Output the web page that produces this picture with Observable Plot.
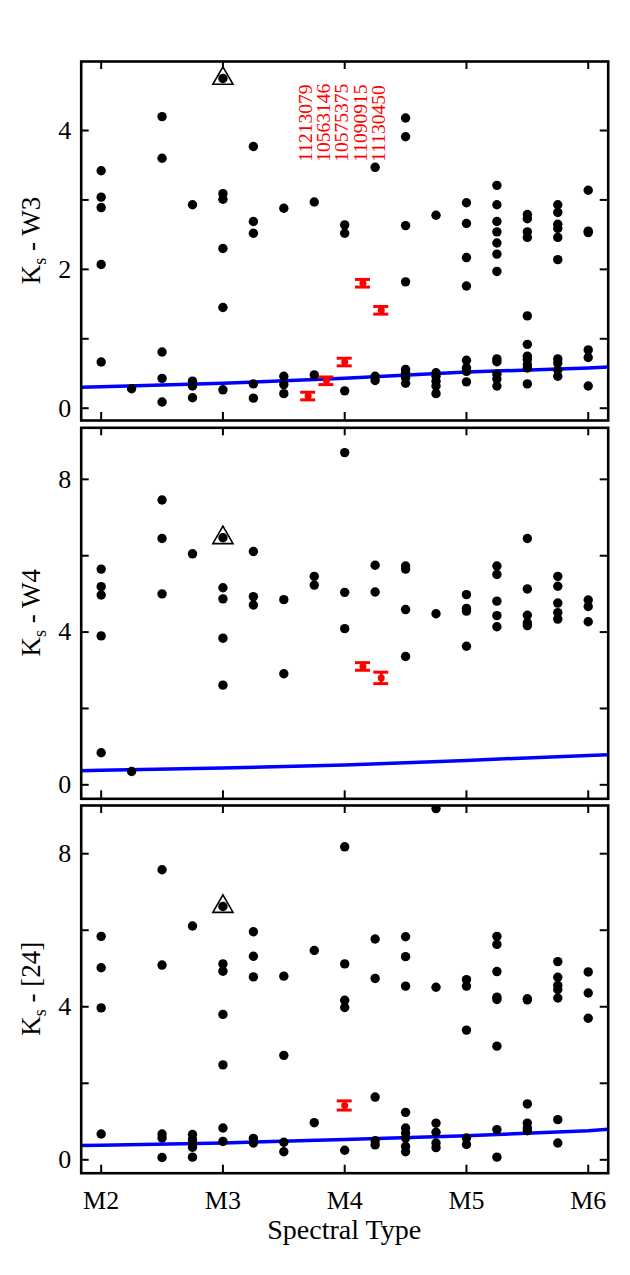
<!DOCTYPE html>
<html><head><meta charset="utf-8">
<script src="https://cdn.jsdelivr.net/npm/d3@7"></script>
<script src="https://cdn.jsdelivr.net/npm/@observablehq/plot@0.6"></script>
<style>
body{margin:0;background:#fff;}
#chart{position:relative;width:630px;height:1275px;}
#chart svg{position:absolute;left:0;font-family:"Liberation Serif","Times New Roman",serif !important;}
#chart svg text{font-family:"Liberation Serif","Times New Roman",serif !important;}
</style></head><body><div id="chart"></div>
<script>
// Spectral-type axis (M2 = 2 ... M6 = 6)
const sptTicks = [2, 3, 4, 5, 6];
const sptLabels = ["M2", "M3", "M4", "M5", "M6"];

// Panel 1: Ks - W3, grouped by spectral type
const w3Points = [
  [2.00, [3.42, 3.04, 2.89, 2.07, 0.665]],
  [2.25, [0.28]],
  [2.50, [4.20, 3.60, 0.81, 0.43, 0.09]],
  [2.75, [2.93, 0.39, 0.32, 0.15]],
  [3.00, [4.75, 3.09, 3.01, 2.30, 1.45, 0.265]],
  [3.25, [3.77, 2.69, 2.52, 0.35, 0.145]],
  [3.50, [2.88, 0.46, 0.34, 0.21]],
  [3.75, [2.97, 0.48]],
  [4.00, [2.64, 2.52, 0.25]],
  [4.25, [3.47, 0.46, 0.40]],
  [4.50, [4.18, 3.91, 2.63, 1.82, 0.56, 0.51, 0.44, 0.36]],
  [4.75, [2.78, 0.51, 0.46, 0.39, 0.32, 0.21]],
  [5.00, [2.96, 2.66, 2.17, 1.76, 0.69, 0.58, 0.53, 0.38]],
  [5.25, [3.21, 2.93, 2.69, 2.54, 2.38, 2.22, 1.97, 0.71, 0.67, 0.49, 0.42, 0.32]],
  [5.50, [2.79, 2.73, 2.54, 2.46, 1.33, 0.92, 0.75, 0.70, 0.63, 0.58, 0.35]],
  [5.75, [2.93, 2.82, 2.65, 2.59, 2.46, 2.14, 0.71, 0.65, 0.55, 0.46]],
  [6.00, [3.14, 2.55, 2.53, 0.84, 0.73, 0.32]]
];
// Panel 2: Ks - W4
const w4Points = [
  [2.00, [5.65, 5.19, 4.97, 3.90, 0.84]],
  [2.25, [0.35]],
  [2.50, [7.46, 6.45, 5.00]],
  [2.75, [6.05]],
  [3.00, [6.47, 5.16, 4.87, 3.84, 2.61]],
  [3.25, [6.11, 4.93, 4.71]],
  [3.50, [4.85, 2.91]],
  [3.75, [5.46, 5.23]],
  [4.00, [8.70, 5.04, 4.09]],
  [4.25, [5.75, 5.05]],
  [4.50, [5.73, 5.65, 4.59, 3.36]],
  [4.75, [4.48]],
  [5.00, [4.98, 4.62, 4.55, 3.63]],
  [5.25, [5.73, 5.51, 4.81, 4.43, 4.14]],
  [5.50, [6.45, 5.13, 4.44, 4.24, 4.17]],
  [5.75, [5.46, 5.20, 4.76, 4.51, 4.34]],
  [6.00, [4.84, 4.67, 4.27]]
];
// Panel 3: Ks - [24]
const m24Points = [
  [2.00, [5.84, 5.02, 3.97, 0.675]],
  [2.50, [7.58, 5.09, 0.675, 0.57, 0.06]],
  [2.75, [6.11, 0.66, 0.53, 0.44, 0.33, 0.07]],
  [3.00, [6.62, 5.12, 4.93, 3.80, 2.48, 0.83, 0.48]],
  [3.25, [5.96, 5.32, 4.78, 0.56, 0.44]],
  [3.50, [4.80, 2.73, 0.46, 0.21]],
  [3.75, [5.47, 0.97]],
  [4.00, [8.18, 5.12, 4.17, 3.98, 0.25]],
  [4.25, [5.77, 4.74, 1.64, 0.50, 0.39]],
  [4.50, [5.83, 5.31, 4.54, 1.24, 0.83, 0.70, 0.57, 0.35, 0.21]],
  [4.75, [9.18, 4.51, 0.96, 0.72, 0.44, 0.32]],
  [5.00, [4.71, 4.54, 3.39, 0.57, 0.40]],
  [5.25, [5.84, 5.63, 4.92, 4.25, 4.19, 2.97, 0.79, 0.07]],
  [5.50, [4.21, 4.18, 1.46, 0.96, 0.83, 0.76]],
  [5.75, [5.18, 4.77, 4.56, 4.45, 4.23, 1.05, 0.44]],
  [6.00, [4.91, 4.36, 3.70]]
];

// Flagged source (open triangle), M3
const triSpt = 3.0;
const triW3 = 4.75, triW4 = 6.47, triM24 = 6.62;

// Red sources with error bars: [spt, value, error]
const redIds = ["11213079", "10563146", "10575375", "11090915", "11130450"];
const redSpt = [3.70, 3.85, 4.00, 4.15, 4.30];
const redW3 = [[3.70, 0.175, 0.055], [3.85, 0.395, 0.055], [4.00, 0.665, 0.055], [4.15, 1.80, 0.055], [4.30, 1.41, 0.055]];
const redW4 = [[4.15, 3.10, 0.10], [4.30, 2.80, 0.15]];
const redM24 = [[4.00, 1.42, 0.12]];
const redLabelBase = 3.55;

// Blue photospheric sequences: [spt, colour]
const lineW3 = [[1.8, 0.30], [2, 0.31], [3, 0.36], [4, 0.43], [5, 0.52], [6, 0.58], [6.2, 0.595]];
const lineW4 = [[1.8, 0.37], [2, 0.38], [3, 0.44], [4, 0.52], [5, 0.64], [6, 0.77], [6.2, 0.79]];
const lineM24 = [[1.8, 0.37], [2, 0.38], [3, 0.44], [4, 0.53], [5, 0.63], [6, 0.76], [6.2, 0.81]];

const xDomain = [1.836, 6.164];
const FONT = "Liberation Serif, Times New Roman, serif";
const RED = "#ff0000", BLUE = "#0000ff";
const W = 630, ML = 80.7, MR = 22.3;

const flat = groups => groups.flatMap(([s, vs]) => vs.map(v => ({spt: s, v})));

function panel(cfg) {
  const innerW = W - ML - MR;
  const innerH = cfg.height - cfg.marginTop - cfg.marginBottom;
  const errs = cfg.red.map(([s, v, e]) => ({spt: s, v, e}));
  const marks = [
    Plot.line(cfg.line.map(([s, v]) => ({spt: s, v})), {x: "spt", y: "v", stroke: BLUE, strokeWidth: 3.5, clip: true}),
    Plot.dot(flat(cfg.points), {x: "spt", y: "v", r: 4.7, fill: "black", clip: true}),
    Plot.dot([{spt: triSpt, v: cfg.tri}], {x: "spt", y: "v", symbol: "triangle", r: 7.5, stroke: "black", fill: "none", strokeWidth: 1.6}),
    Plot.ruleX(errs, {x: "spt", y1: d => d.v - d.e, y2: d => d.v + d.e, stroke: RED, strokeWidth: 3}),
    Plot.ruleY(errs, {y: d => d.v - d.e, x1: "spt", x2: "spt", insetLeft: -7.5, insetRight: -7.5, stroke: RED, strokeWidth: 3}),
    Plot.ruleY(errs, {y: d => d.v + d.e, x1: "spt", x2: "spt", insetLeft: -7.5, insetRight: -7.5, stroke: RED, strokeWidth: 3}),
    Plot.dot(errs, {x: "spt", y: "v", r: 3.5, fill: RED}),
    Plot.tickY(cfg.yTicks, {y: d => d, insetRight: innerW - 8, stroke: "black", strokeWidth: 2}),
    Plot.tickY(cfg.yTicks, {y: d => d, insetLeft: innerW - 8, stroke: "black", strokeWidth: 2}),
    Plot.tickX(sptTicks, {x: d => d, insetTop: innerH - 8, stroke: "black", strokeWidth: 2}),
    Plot.tickX(sptTicks, {x: d => d, insetBottom: innerH - 8, stroke: "black", strokeWidth: 2}),
    Plot.frame({stroke: "black", strokeWidth: 2.6}),
    Plot.axisY(cfg.yLabels, {tickSize: 0, tickPadding: 10, fontSize: 26, fontFamily: FONT, label: null,
      tickFormat: d => String(d)})
  ];
  if (cfg.labels) {
    marks.push(Plot.text(redIds.map((id, i) => ({id, spt: redSpt[i]})), {
      x: "spt", y: () => redLabelBase, text: "id", rotate: -90, textAnchor: "start",
      lineAnchor: "middle", fill: RED, fontSize: 19.5, fontFamily: FONT, dx: -2.5
    }));
  }
  if (cfg.showX) {
    marks.push(Plot.axisX(sptTicks, {tickSize: 0, tickPadding: 17, fontSize: 26, fontFamily: FONT, label: null,
      tickFormat: d => sptLabels[sptTicks.indexOf(d)]}));
  }
  const svg = Plot.plot({
    width: W, height: cfg.height,
    marginLeft: ML, marginRight: MR, marginTop: cfg.marginTop, marginBottom: cfg.marginBottom,
    style: {fontFamily: FONT, background: "transparent", color: "black"},
    x: {domain: xDomain, axis: cfg.showX ? undefined : null},
    y: {domain: cfg.yDomain},
    marks
  });
  svg.style.top = cfg.top + "px";
  // y-axis title with subscript
  const yc = cfg.marginTop + innerH / 2;
  const t = d3.select(svg).append("text")
    .attr("transform", `translate(40,${yc}) rotate(-90)`)
    .attr("text-anchor", "middle")
    .attr("font-family", FONT).attr("font-size", 27).attr("fill", "black");
  t.append("tspan").text("K");
  t.append("tspan").attr("font-size", 18).attr("dy", 6).text("s");
  t.append("tspan").attr("dy", -6).text(" - " + cfg.title);
  if (cfg.showX) {
    d3.select(svg).append("text")
      .attr("x", ML + innerW / 2).attr("y", cfg.height - cfg.marginBottom + 66)
      .attr("text-anchor", "middle")
      .attr("font-family", FONT).attr("font-size", 28).attr("fill", "black")
      .text("Spectral Type");
  }
  document.getElementById("chart").appendChild(svg);
}

panel({points: w3Points, tri: triW3, red: redW3, line: lineW3, yDomain: [-0.177, 4.994],
  yTicks: [0, 1, 2, 3, 4], yLabels: [0, 2, 4], title: "W3", labels: true,
  top: 0, height: 424, marginTop: 61, marginBottom: 4});
panel({points: w4Points, tri: triW4, red: redW4, line: lineW4, yDomain: [-0.366, 9.35],
  yTicks: [0, 2, 4, 6, 8], yLabels: [0, 4, 8], title: "W4",
  top: 424, height: 378, marginTop: 3.3, marginBottom: 3.7});
panel({points: m24Points, tri: triM24, red: redM24, line: lineM24, yDomain: [-0.35, 9.26],
  yTicks: [0, 2, 4, 6, 8], yLabels: [0, 4, 8], title: "[24]", showX: true,
  top: 802, height: 473, marginTop: 3, marginBottom: 102.3});
</script></body></html>
